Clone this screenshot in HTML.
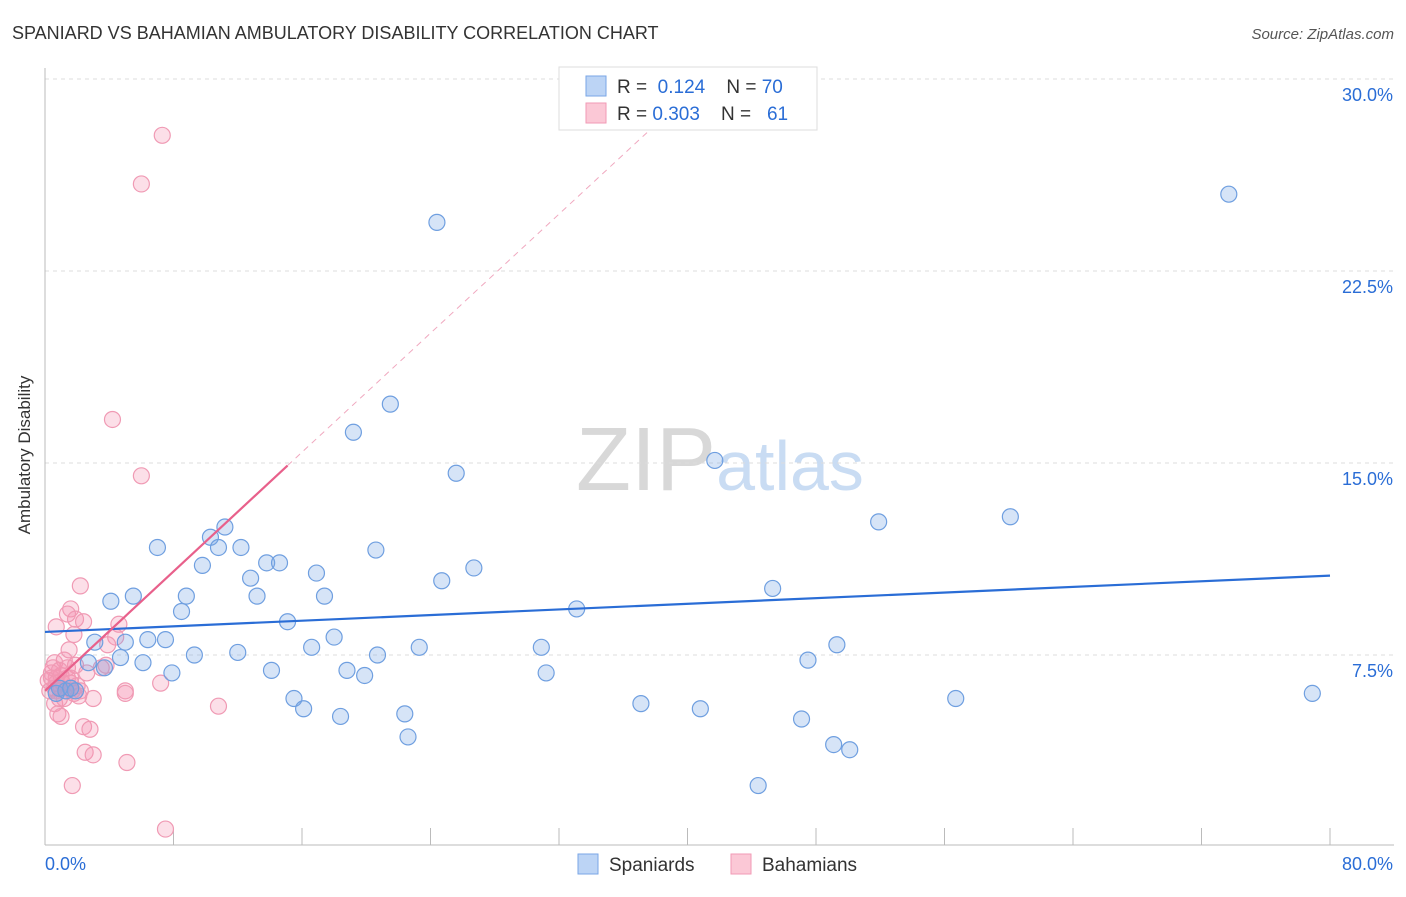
<!DOCTYPE html>
<html><head><meta charset="utf-8"><style>
body{margin:0;background:#fff;font-family:"Liberation Sans",sans-serif}
svg text{font-family:"Liberation Sans",sans-serif}
</style></head><body>
<svg width="1406" height="892" xmlns="http://www.w3.org/2000/svg">
<text x="12" y="39" font-size="18" fill="#333">SPANIARD VS BAHAMIAN AMBULATORY DISABILITY CORRELATION CHART</text>
<text x="1394" y="39" font-size="15" fill="#555" text-anchor="end" font-style="italic">Source: ZipAtlas.com</text>
<text x="720" y="490" font-size="90" fill="#ddd" text-anchor="middle" font-family="Liberation Serif"><tspan fill="#d8d8d8">ZIP</tspan><tspan fill="#c9dcf3" font-family="Liberation Sans" font-size="70">atlas</tspan></text>
<g id="grid"></g><g id="axes"></g><g id="pink"></g><g id="blue"></g><g id="lines"></g>
<text x="30" y="455" font-size="17" fill="#333" text-anchor="middle" transform="rotate(-90 30 455)">Ambulatory Disability</text>
<g>
<rect x="559" y="67" width="258" height="63" fill="#fff" stroke="#ddd"/>
<rect x="586" y="76" width="20" height="20" fill="#bcd4f5" stroke="#7aa6e6"/>
<rect x="586" y="103" width="20" height="20" fill="#fbc8d6" stroke="#f29ab5"/>
<text x="617" y="93" font-size="19" fill="#333">R = <tspan fill="#2a6dd6">&#160;0.124</tspan>&#160;&#160;&#160;&#160;N = <tspan fill="#2a6dd6">70</tspan></text>
<text x="617" y="120" font-size="19" fill="#333">R = <tspan fill="#2a6dd6">0.303</tspan>&#160;&#160;&#160;&#160;N = <tspan fill="#2a6dd6">&#160;&#160;61</tspan></text>
</g>
<g>
<rect x="578" y="854" width="20" height="20" fill="#bcd4f5" stroke="#7aa6e6"/>
<text x="609" y="871" font-size="19" fill="#333">Spaniards</text>
<rect x="731" y="854" width="20" height="20" fill="#fbc8d6" stroke="#f29ab5"/>
<text x="762" y="871" font-size="19" fill="#333">Bahamians</text>
</g>
</svg>
<script>
const xTicks=[0,8,16,24,32,40,48,56,64,72,80];
const yTicks=[7.5,15,22.5,30];
const yTickLabels=["7.5%","15.0%","22.5%","30.0%"];
const blueX=[24.4,73.7,21.5,19.2,25.6,41.7,51.9,60.1,11.2,10.3,7.0,10.8,12.2,20.6,13.8,14.6,9.8,26.7,24.7,12.8,16.9,45.3,5.5,8.8,13.2,17.4,8.5,33.1,4.1,15.1,3.1,5.0,6.4,7.5,18.0,49.3,16.6,23.3,30.9,12.0,9.3,4.7,20.7,2.7,3.7,6.1,47.5,14.1,7.9,18.8,19.9,31.2,78.9,56.7,15.5,37.1,40.8,16.1,22.4,18.4,47.1,22.6,49.1,50.1,44.4,0.7,1.3,1.9,0.9,1.6];
const blueY=[24.4,25.5,17.3,16.2,14.6,15.1,12.7,12.9,12.5,12.1,11.7,11.7,11.7,11.6,11.1,11.1,11.0,10.9,10.4,10.5,10.7,10.1,9.8,9.8,9.8,9.8,9.2,9.3,9.6,8.8,8.0,8.0,8.1,8.1,8.2,7.9,7.8,7.8,7.8,7.6,7.5,7.4,7.5,7.2,7.0,7.2,7.3,6.9,6.8,6.9,6.7,6.8,6.0,5.8,5.8,5.6,5.4,5.4,5.2,5.1,5.0,4.3,4.0,3.8,2.4,6.0,6.1,6.1,6.2,6.2];
const pinkX=[7.3,6.0,4.2,6.0,2.2,1.6,1.4,1.9,2.4,0.7,4.6,1.8,4.4,1.5,3.9,0.6,1.2,3.5,0.4,2.6,0.7,1.0,1.4,0.2,0.7,1.6,2.0,1.0,0.3,1.3,1.8,2.2,7.2,5.0,5.0,3.0,0.6,0.8,1.0,2.4,2.8,10.8,2.5,3.0,5.1,1.7,7.5,0.5,0.9,1.7,1.2,2.1,0.7,1.1,0.4,1.4,1.9,3.8,0.9,0.6,1.6];
const pinkY=[27.8,25.9,16.7,14.5,10.2,9.3,9.1,8.9,8.8,8.6,8.7,8.3,8.2,7.7,7.9,7.2,7.3,7.0,6.8,6.8,6.6,6.7,6.6,6.5,6.4,6.4,6.3,6.2,6.1,6.1,6.0,6.1,6.4,6.1,6.0,5.8,5.6,5.2,5.1,4.7,4.6,5.5,3.7,3.6,3.3,2.4,0.7,7.0,5.8,6.1,5.8,5.9,6.1,6.4,6.6,7.0,7.1,7.1,6.9,6.2,6.6];
const blueTrend=[0,8.4,80,10.6];
const pinkTrend=[0,6.1,15.1,14.9];
const pinkDashEnd=[38.5,28.5];
const NS="http://www.w3.org/2000/svg";
const X=v=>45+v/80*1285, Y=v=>847-v/30*768;
function mk(p,t,a){const e=document.createElementNS(NS,t);for(const k in a)e.setAttribute(k,a[k]);document.getElementById(p).appendChild(e);return e;}
yTicks.forEach((t,i)=>{
 const l=mk('grid','line',{x1:45,x2:1394,y1:Y(t),y2:Y(t),stroke:'#ddd','stroke-dasharray':'4 4'});
 
 
 const tx=mk('grid','text',{x:1393,y:Y(t)+22,'font-size':18,fill:'#2a6dd6','text-anchor':'end'});tx.textContent=yTickLabels[i];
 
 
});
const ax=mk('axes','line',{x1:45,x2:1394,y1:845,y2:845,stroke:'#bbb'});


const ay=mk('axes','line',{x1:45,x2:45,y1:68,y2:845,stroke:'#bbb'});


xTicks.forEach(t=>{const l=mk('axes','line',{x1:X(t),x2:X(t),y1:828,y2:845,stroke:'#bbb'});
 
 });
const x0=mk('axes','text',{x:45,y:870,'font-size':18,fill:'#2a6dd6'});x0.textContent='0.0%';


const x1=mk('axes','text',{x:1393,y:870,'font-size':18,fill:'#2a6dd6','text-anchor':'end'});x1.textContent='80.0%';


pinkX.forEach((v,i)=>{const c=mk('pink','circle',{cx:X(v),cy:Y(pinkY[i]),r:8,fill:'rgba(244,150,180,0.3)',stroke:'#f09ab4','stroke-width':1.2});
 
 });
blueX.forEach((v,i)=>{const c=mk('blue','circle',{cx:X(v),cy:Y(blueY[i]),r:8,fill:'rgba(120,165,230,0.3)',stroke:'#6f9fe0','stroke-width':1.2});
 
 });
const bl=mk('lines','line',{x1:X(blueTrend[0]),y1:Y(blueTrend[1]),x2:X(blueTrend[2]),y2:Y(blueTrend[3]),stroke:'#2a6dd6','stroke-width':2.2});


const pd=mk('lines','line',{x1:X(pinkTrend[2]),y1:Y(pinkTrend[3]),x2:X(pinkDashEnd[0]),y2:Y(pinkDashEnd[1]),stroke:'#f0a8bf','stroke-width':1,'stroke-dasharray':'6 5'});


const pl=mk('lines','line',{x1:X(pinkTrend[0]),y1:Y(pinkTrend[1]),x2:X(pinkTrend[2]),y2:Y(pinkTrend[3]),stroke:'#e8608b','stroke-width':2.2});


</script>
</body></html>
